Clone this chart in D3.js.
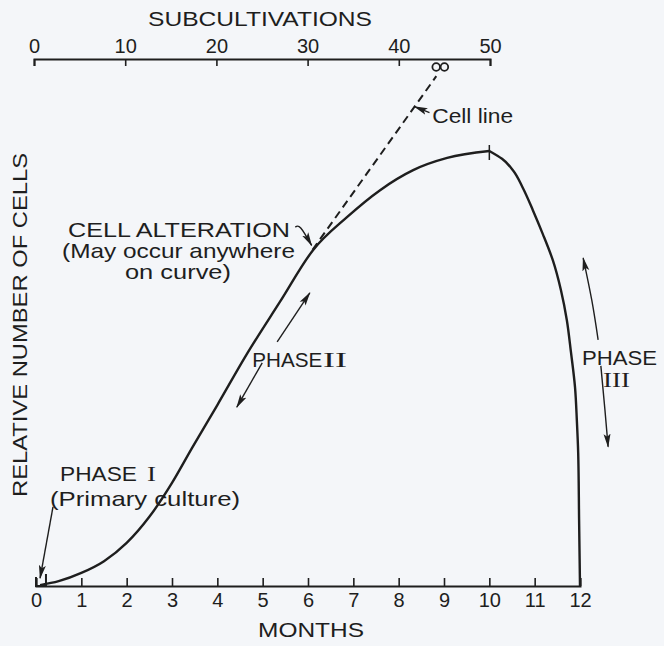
<!DOCTYPE html>
<html>
<head>
<meta charset="utf-8">
<script src="https://cdn.jsdelivr.net/npm/d3@7"></script>
<style>
  body { margin: 0; background: #f4f6f9; }
  svg { display: block; }
  text { font-family: "Liberation Sans", Arial, sans-serif; fill: #1e1e1e; }
  .roman { font-family: "Liberation Serif", serif; }
</style>
</head>
<body>
<script>
// tick labels
let monthTicks = [0, 1, 2, 3, 4, 5, 6, 7, 8, 9, 10, 11, 12]
let subTicks = [0, 10, 20, 30, 40, 50]

// phase I + II : growth of the culture (months, relative number of cells)
let growthMonths = [0.09, 0.5, 1.0, 1.5, 2.0, 2.5, 3.0, 3.44, 4.0, 4.65, 5.38, 6.11, 6.86, 7.59, 8.32, 9.07, 10]
let growthCells = [0.2, 1.1, 3.0, 5.7, 9.9, 15.9, 23.7, 31.7, 41.6, 53.3, 65.3, 77.2, 84.8, 91.0, 95.6, 98.4, 100]

// phase III : decline
let declineMonths = [10, 10.28, 10.52, 10.74, 10.96, 11.18, 11.40, 11.58, 11.71, 11.80, 11.89, 11.93, 11.96, 11.98, 12]
let declineCells = [100, 98.2, 95.6, 91.5, 86.4, 80.9, 74.9, 68.0, 61.1, 53.8, 45.7, 38.2, 30.6, 15.2, 0]

// dashed "cell line" from the alteration point up to infinity
let cellLineMonths = [6.1, 8.83]
let cellLineCells = [77.3, 117.2]

let width = 664
let height = 646

let x = d3.scaleLinear().domain([0, 12]).range([36, 580])
let xSub = d3.scaleLinear().domain([0, 50]).range([34, 490])
let y = d3.scaleLinear().domain([0, 100]).range([586, 151])

let svg = d3.select("body").append("svg")
    .attr("width", width)
    .attr("height", height)

let ink = "#1e1e1e"

svg.append("defs").append("marker")
    .attr("id", "head")
    .attr("viewBox", "0 -5 14 10")
    .attr("refX", 13)
    .attr("refY", 0)
    .attr("markerWidth", 14)
    .attr("markerHeight", 10)
    .attr("markerUnits", "userSpaceOnUse")
    .attr("orient", "auto")
    .append("path")
    .attr("d", "M0,-3.5L14,0L0,3.5L3,0Z")
    .attr("fill", ink)

// axes
let bottomAxis = d3.axisBottom(x).tickValues(monthTicks).tickSize(-8).tickPadding(7)
let topAxis = d3.axisTop(xSub).tickValues(subTicks).tickSize(-7).tickPadding(6)

let gb = svg.append("g").attr("transform", "translate(0," + y(0) + ")").call(bottomAxis)
let gt = svg.append("g").attr("transform", "translate(0,59)").call(topAxis)

for (let g of [gb, gt]) {
    g.select(".domain").attr("stroke", ink).attr("stroke-width", 2)
    g.selectAll(".tick line").attr("stroke", ink).attr("stroke-width", 1.6)
    g.selectAll(".tick text").attr("fill", ink).style("font-size", "20px")
        .style("font-family", "'Liberation Sans', Arial, sans-serif")
}

svg.append("text")
    .attr("x", 148).attr("y", 26)
    .attr("textLength", 224).attr("lengthAdjust", "spacingAndGlyphs")
    .style("font-size", "21px")
    .text("SUBCULTIVATIONS")

svg.append("text")
    .attr("x", 258).attr("y", 637)
    .attr("textLength", 106).attr("lengthAdjust", "spacingAndGlyphs")
    .style("font-size", "21px")
    .text("MONTHS")

svg.append("text")
    .attr("transform", "translate(27,325) rotate(-90)")
    .attr("text-anchor", "middle")
    .attr("textLength", 344).attr("lengthAdjust", "spacingAndGlyphs")
    .style("font-size", "21px")
    .text("RELATIVE NUMBER OF CELLS")

// curve, split at the peak (there is a corner there)
let growth = growthMonths.map((m, i) => [m, growthCells[i]])
let decline = declineMonths.map((m, i) => [m, declineCells[i]])

let growthLine = d3.line().x(d => x(d[0])).y(d => y(d[1])).curve(d3.curveMonotoneX)
let declineLine = d3.line().x(d => x(d[0])).y(d => y(d[1])).curve(d3.curveMonotoneY)

svg.append("path")
    .attr("d", growthLine(growth))
    .attr("fill", "none")
    .attr("stroke", ink)
    .attr("stroke-width", 2.4)

svg.append("path")
    .attr("d", declineLine(decline))
    .attr("fill", "none")
    .attr("stroke", ink)
    .attr("stroke-width", 2.4)

// mark at the peak
svg.append("line")
    .attr("x1", x(10)).attr("x2", x(10))
    .attr("y1", y(100) - 6).attr("y2", y(100) + 9)
    .attr("stroke", ink).attr("stroke-width", 1.5)

// little bracket at the origin
svg.append("path")
    .attr("d", "M" + x(0) + "," + (y(0) - 9) + "V" + y(0) + "H" + x(0.22) + "V" + (y(0) - 12))
    .attr("fill", "none").attr("stroke", ink).attr("stroke-width", 2)

// dashed cell line
let cellLine = cellLineMonths.map((m, i) => [m, cellLineCells[i]])
svg.append("path")
    .attr("d", d3.line().x(d => x(d[0])).y(d => y(d[1]))(cellLine))
    .attr("fill", "none")
    .attr("stroke", ink)
    .attr("stroke-width", 2)
    .attr("stroke-dasharray", "8,5")

// infinity mark on the subcultivation axis
for (let s of [44.1, 45.0]) {
    svg.append("circle")
        .attr("cx", xSub(s)).attr("cy", 67).attr("r", 3.8)
        .attr("fill", "none").attr("stroke", ink).attr("stroke-width", 1.8)
}

// annotation arrows
let phase1Arrow = [[0.375, 18.2], [0.09, 1.8]]
let phase2Up = [[5.32, 56.1], [6.04, 67.4]]
let phase2Down = [[4.99, 51.3], [4.43, 41.1]]
let phase3Up = [[12.40, 56.6], [12.26, 65.7], [12.07, 75.4]]
let phase3Down = [[12.46, 50.6], [12.55, 40.5], [12.62, 32.0]]
let cellLinePointer = [[8.68, 108.8], [8.35, 110.2]]
let alterationLeader = [[5.72, 82.5], [5.84, 82.3], [6.08, 78.3]]

let arrowLine = d3.line().x(d => x(d[0])).y(d => y(d[1])).curve(d3.curveNatural)

for (let a of [phase1Arrow, phase2Up, phase2Down, phase3Up, phase3Down, cellLinePointer, alterationLeader]) {
    svg.append("path")
        .attr("d", arrowLine(a))
        .attr("fill", "none")
        .attr("stroke", ink)
        .attr("stroke-width", 1.4)
        .attr("marker-end", "url(#head)")
}

// labels inside the plot
function label(m, v, txt, len, cls) {
    return svg.append("text")
        .attr("class", cls || null)
        .attr("x", x(m)).attr("y", y(v))
        .attr("textLength", len).attr("lengthAdjust", "spacingAndGlyphs")
        .style("font-size", "21px")
        .text(txt)
}

label(0.706, 80.2, "CELL ALTERATION", 222)
label(0.574, 75.4, "(May occur anywhere", 233)
label(1.963, 70.6, "on curve)", 106)

label(0.53, 24.1, "PHASE", 77)
label(2.45, 24.1, "I", 9, "roman").style("font-size", "22px")
label(0.309, 18.4, "(Primary culture)", 190)

label(4.77, 50.3, "PHASE", 70)
label(6.33, 50.3, "II", 24, "roman").style("font-size", "22px")

label(12.045, 50.8, "PHASE", 75)
label(12.51, 45.7, "III", 27, "roman").style("font-size", "22px")

label(8.74, 106.4, "Cell line", 81)
</script>
</body>
</html>
